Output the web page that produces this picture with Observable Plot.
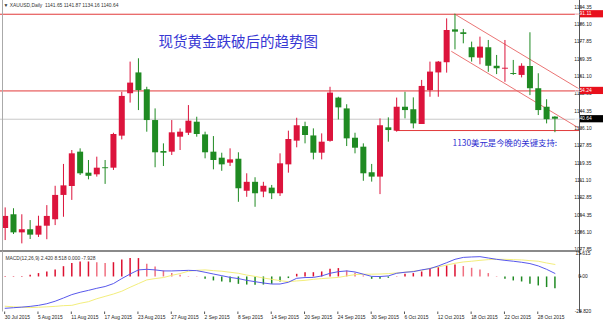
<!DOCTYPE html>
<html><head><meta charset="utf-8">
<script src="https://cdn.jsdelivr.net/npm/d3@7"></script>
<script src="https://cdn.jsdelivr.net/npm/@observablehq/plot@0.6"></script>
<style>
body{margin:0;background:#fff;width:603px;height:322px;overflow:hidden}
svg{display:block}
</style></head><body><div id="chart"></div>
<script>
// ---- data ----
const tickLabels = ["30 Jul 2015","5 Aug 2015","11 Aug 2015","17 Aug 2015","23 Aug 2015","27 Aug 2015","2 Sep 2015","8 Sep 2015","14 Sep 2015","20 Sep 2015","24 Sep 2015","30 Sep 2015","6 Oct 2015","12 Oct 2015","18 Oct 2015","22 Oct 2015","28 Oct 2015"];
const tickEvery = 4;
const open  = [1088.1,1094.7,1086.0,1087.5,1084.9,1089.2,1092.3,1104.0,1108.3,1124.8,1114.7,1113.9,1117.3,1117.1,1132.5,1152.9,1162.9,1154.8,1140.0,1125.1,1124.8,1132.0,1133.9,1139.2,1133.1,1124.8,1121.9,1119.5,1121.4,1106.0,1110.3,1105.6,1107.5,1104.8,1118.7,1130.1,1137.1,1132.6,1124.3,1130.0,1150.8,1145.6,1131.5,1127.2,1114.9,1112.8,1136.5,1134.9,1146.4,1145.2,1138.1,1154.4,1162.9,1167.8,1183.6,1182.2,1175.0,1170.0,1175.0,1166.1,1164.7,1162.6,1161.7,1166.0,1155.3,1146.4,1141.65];
const high  = [1098.0,1097.6,1094.7,1091.9,1094.0,1099.1,1108.4,1118.9,1125.6,1126.4,1120.8,1122.4,1120.8,1133.9,1153.6,1168.1,1169.7,1156.0,1145.6,1128.8,1140.0,1136.0,1147.2,1141.6,1134.4,1132.3,1124.3,1126.4,1124.5,1114.4,1112.5,1110.3,1108.8,1124.0,1134.9,1141.1,1139.2,1136.0,1133.6,1156.0,1151.2,1147.6,1133.9,1128.8,1118.9,1140.8,1141.3,1150.8,1153.6,1150.9,1159.3,1168.1,1168.4,1188.9,1191.11,1183.8,1177.7,1180.1,1178.5,1171.3,1178.5,1168.9,1167.3,1182.2,1162.5,1150.0,1141.87];
const low   = [1082.3,1085.2,1080.7,1082.8,1083.8,1082.7,1089.5,1093.5,1101.6,1113.6,1111.5,1112.8,1109.3,1116.0,1130.7,1148.4,1144.8,1134.4,1117.3,1117.9,1123.2,1125.6,1132.8,1132.0,1121.6,1116.3,1115.6,1117.9,1100.7,1103.1,1098.3,1102.9,1102.0,1103.5,1114.7,1126.9,1128.8,1121.1,1121.1,1129.6,1140.3,1127.5,1124.0,1110.8,1110.4,1104.4,1129.6,1134.4,1140.8,1136.0,1138.1,1151.2,1151.2,1162.8,1174.0,1176.9,1168.1,1166.8,1163.2,1162.1,1158.4,1161.7,1160.5,1152.0,1142.4,1138.4,1134.16];
const close = [1093.9,1086.0,1087.5,1084.9,1089.2,1093.9,1104.0,1108.6,1124.0,1114.4,1113.2,1117.1,1117.0,1133.3,1151.6,1158.0,1154.4,1140.0,1124.5,1124.3,1134.1,1134.4,1139.7,1133.3,1124.5,1120.8,1118.7,1121.1,1107.2,1110.3,1104.8,1108.4,1104.8,1119.2,1130.9,1137.5,1132.8,1124.3,1129.6,1153.2,1146.1,1131.2,1126.7,1114.4,1112.8,1137.5,1135.2,1146.4,1144.8,1138.4,1156.4,1163.3,1168.1,1183.3,1182.5,1181.4,1170.2,1175.3,1166.1,1164.9,1165.0,1162.3,1166.1,1155.3,1144.8,1140.4,1140.64];
const macdHist   = [0.3,0.3,0.4,1.1,2.3,3.4,4.8,7.0,9.1,10.2,10.2,9.7,9.1,9.7,11.6,12.5,12.5,8.6,6.8,4.1,2.3,1.1,0.3,0.2,-1.6,-2.7,-3.4,-3.9,-5.0,-5.5,-5.7,-5.5,-5.0,-3.4,-1.1,1.8,2.9,2.9,3.4,5.2,5.7,4.1,2.5,0.7,-1.6,-1.6,-0.9,0.2,1.8,2.3,3.4,5.2,6.4,7.5,8.1,7.1,5.9,4.8,2.3,0.3,-1.6,-2.7,-3.4,-5.0,-6.1,-7.2,-7.93];
const macdMain   = [-21.3,-20.9,-20.5,-20.0,-19.3,-18.2,-16.5,-14.3,-12.0,-10.4,-9.1,-7.7,-6.5,-4.5,-1.1,2.0,4.8,5.2,4.8,4.1,4.1,4.3,4.5,4.3,3.2,2.0,0.9,-0.3,-1.1,-2.3,-3.2,-4.1,-4.8,-4.8,-3.6,-0.9,-0.4,-0.3,0.7,2.5,3.6,4.1,3.4,1.9,0.4,0.3,0.7,2.5,3.2,3.6,4.8,5.7,7.5,9.7,12.0,13.3,13.6,13.8,12.9,12.0,11.3,10.7,10.0,9.1,7.5,5.2,2.42];
const macdSignal = [-19.9,-20.3,-20.6,-20.8,-20.6,-20.3,-20.0,-19.5,-19.3,-17.9,-16.8,-14.8,-13.2,-11.6,-9.7,-7.0,-4.5,-2.0,-1.1,-0.4,1.1,2.3,3.9,4.5,4.8,4.3,3.9,3.2,2.5,1.3,0.4,-0.7,-1.6,-2.5,-3.2,-2.7,-2.3,-1.6,-1.1,-0.7,-0.3,0.7,1.6,1.9,1.9,2.0,2.3,2.7,3.2,3.9,4.5,5.9,6.8,8.1,9.3,10.2,10.7,11.3,11.8,12.0,12.0,11.8,11.6,11.1,10.7,9.5,8.52];
const priceTicks = [1194.35,1186.10,1177.85,1169.35,1161.10,1152.85,1144.35,1136.10,1127.85,1119.35,1111.10,1102.85,1094.35,1086.10,1077.85];
const macdRange = [-23.820, 15.615];
const macdTicks = [15.615, 0, -23.820];
const macdTickText = ["15.615","0.00","-23.820"];
const redLevels = [1191.11, 1154.24];
const lastPrice = 1140.64;
const supportLine = [{i:46.9, p:1135.2},{i:68.95, p:1135.2}];
const channelUpper = [{i:54, p:1191.11},{i:68.95, p:1155.1}];
const channelLower = [{i:53.6, p:1173.2},{i:68.95, p:1136.2}];
const headerText = "▼ XAUUSD,Daily  1141.65 1141.87 1134.16 1140.64";
const macdText = "MACD(12,26,9) 2.420 8.518 0.000 -7.928";
const titleText = "现货黄金跌破后的趋势图";
const noteText = "1130美元是今晚的关键支持:";

// ---- build ----
const W = 603, MR = 24;
const xDomain = [-0.56, 68.95];
const RED = "#dc143c", GREEN = "#1f8a22";
const candles = open.map((o, i) => ({i, o, h: high[i], l: low[i], c: close[i]}));
const ccol = d => d.c >= d.o ? RED : GREEN;
const bodyEnd = d => Math.abs(d.c - d.o) < 0.45 ? d.o + (d.c >= d.o ? 0.45 : -0.45) : d.c;
const small = {fontFamily: "Liberation Sans, Arial, sans-serif", fontSize: 4.9};

function rightAxis(ticks, labels, boxes) {
  return (index, scales, values, dims) => {
    const g = d3.create("svg:g").attr("font-family", small.fontFamily).attr("font-size", small.fontSize);
    const x0 = dims.width - dims.marginRight;
    g.append("line").attr("x1", x0 + 0.5).attr("x2", x0 + 0.5).attr("y1", 0).attr("y2", dims.height - (dims.marginBottom > 5 ? dims.marginBottom - 1 : 0)).attr("stroke", "#555");
    g.append("line").attr("x1", 2.5).attr("x2", 2.5).attr("y1", 0).attr("y2", dims.height - dims.marginBottom).attr("stroke", "#aaa");
    ticks.forEach((t, k) => {
      const y = scales.y(t);
      g.append("line").attr("x1", x0).attr("x2", x0 + 2.5).attr("y1", y).attr("y2", y).attr("stroke", "#555");
      g.append("text").attr("x", x0 + 4).attr("y", y).attr("dy", "0.35em").attr("fill", "#222").text(labels[k]);
    });
    for (const b of boxes) {
      const y = scales.y(b.v);
      g.append("rect").attr("x", x0 + 1).attr("y", y - 3.6).attr("width", dims.marginRight - 1).attr("height", 7.2).attr("fill", b.bg);
      g.append("text").attr("x", x0 + 4).attr("y", y).attr("dy", "0.35em").attr("fill", "#fff").text(b.v.toFixed(2));
    }
    return g.node();
  };
}

const main = Plot.plot({
  width: W, height: 251, marginLeft: 0, marginRight: MR, marginTop: 0, marginBottom: 0,
  x: {domain: xDomain, axis: null},
  y: {domain: [1077.04, 1197.72], axis: null},
  style: {background: "#fff", overflow: "visible"},
  marks: [
    Plot.ruleY([lastPrice], {stroke: "#c8c8c8", strokeWidth: 1}),
    Plot.ruleY(redLevels, {stroke: "#e23a3a", strokeWidth: 1}),
    Plot.line(supportLine, {x: "i", y: "p", stroke: "#e23a3a", strokeWidth: 1}),
    Plot.line(channelUpper, {x: "i", y: "p", stroke: "#e86464", strokeWidth: 0.9}),
    Plot.line(channelLower, {x: "i", y: "p", stroke: "#e86464", strokeWidth: 0.9}),
    Plot.ruleX(candles, {x: "i", y1: "l", y2: "h", stroke: ccol, strokeWidth: 1}),
    Plot.ruleX(candles, {x: "i", y1: "o", y2: bodyEnd, stroke: ccol, strokeWidth: 6}),
    Plot.text([headerText], {frameAnchor: "top-left", dx: 3, dy: 4.5, lineAnchor: "middle", textAnchor: "start", fill: "#333", ...small}),
    Plot.text([titleText], {frameAnchor: "top-left", dx: 158, dy: 41.5, lineAnchor: "middle", textAnchor: "start", fill: "#3838d4", fontSize: 14.5, fontFamily: "Noto Sans CJK SC"}),
    Plot.text([noteText], {frameAnchor: "top-left", dx: 452, dy: 142.5, lineAnchor: "middle", textAnchor: "start", fill: "#2e2ed0", fontSize: 8.4, fontFamily: "Noto Sans CJK SC"}),
    rightAxis(priceTicks, priceTicks.map(v => v.toFixed(2)), [{v: 1191.11, bg: "#e8101c"}, {v: 1154.24, bg: "#e8101c"}, {v: lastPrice, bg: "#000"}])
  ]
});

const hist = macdHist.map((v, i) => {
  const prev = i > 0 ? macdHist[i - 1] : v;
  const col = v >= 0 ? (v >= prev ? "#dd1030" : "#f07080") : "#1f8a22";
  return {i, v, col};
});
const mainLine = macdMain.map((v, i) => ({i, v}));
const sigLine = macdSignal.map((v, i) => ({i, v}));
const tickIdx = tickLabels.map((_, k) => k * tickEvery);

const macd = Plot.plot({
  width: W, height: 71, marginLeft: 0, marginRight: MR, marginTop: 2.5, marginBottom: 10.5,
  x: {domain: xDomain, axis: null},
  y: {domain: macdRange, axis: null},
  style: {background: "#fff", overflow: "visible"},
  marks: [
    (index, scales, values, dims) => {
      const g = d3.create("svg:g");
      const yb = dims.height - dims.marginBottom;
      g.append("line").attr("x1", 0).attr("x2", dims.width - dims.marginRight).attr("y1", 0).attr("y2", 0).attr("stroke", "#8a8a8a").attr("stroke-width", 2);
      for (const t of tickIdx) {
        const x = scales.x(t);
        g.append("line").attr("x1", x).attr("x2", x).attr("y1", yb).attr("y2", yb + 2.5).attr("stroke", "#555");
      }
      return g.node();
    },
    Plot.ruleX(hist, {x: "i", y1: 0, y2: "v", stroke: "col", strokeWidth: 1.5}),
    Plot.line(sigLine, {x: "i", y: "v", stroke: "#f3ee7c", strokeWidth: 1}),
    Plot.line(mainLine, {x: "i", y: "v", stroke: "#5858ec", strokeWidth: 1}),
    Plot.text([macdText], {frameAnchor: "top-left", dx: 5, dy: 4.5, lineAnchor: "middle", textAnchor: "start", fill: "#333", ...small}),
    Plot.text(tickIdx, {x: d => d, text: d => tickLabels[d / tickEvery], frameAnchor: "bottom", dx: -0.5, dy: 5.5, lineAnchor: "middle", textAnchor: "start", fill: "#222", ...small}),
    rightAxis(macdTicks, macdTickText, [])
  ]
});

const root = document.getElementById("chart");
root.appendChild(main);
root.appendChild(macd);
</script></body></html>
